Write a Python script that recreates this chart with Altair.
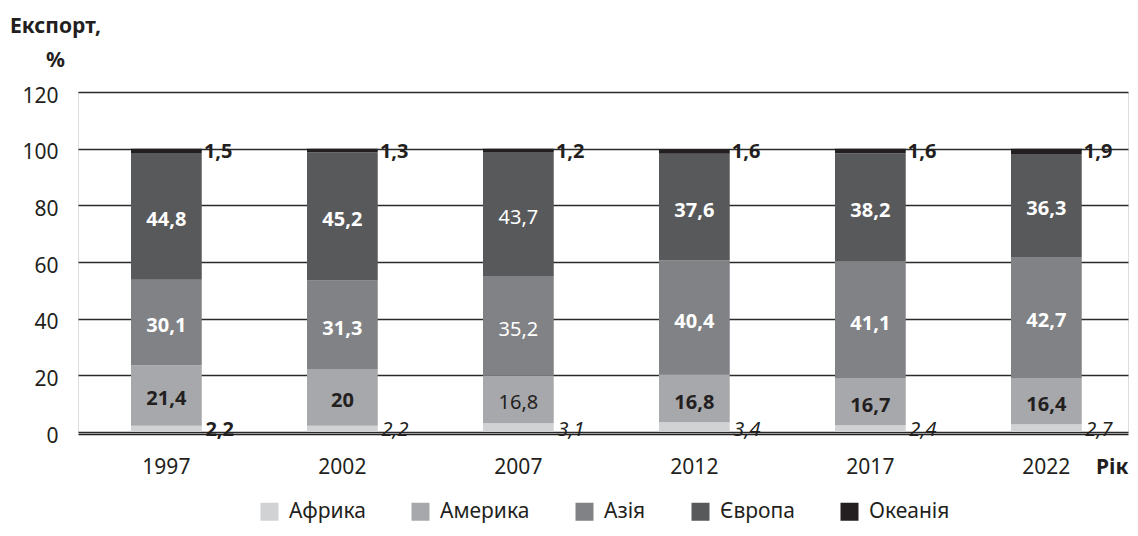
import altair as alt
import pandas as pd

years = ["1997", "2002", "2007", "2012", "2017", "2022"]
regions = ["Африка", "Америка", "Азія", "Європа", "Океанія"]
africa = [2.2, 2.2, 3.1, 3.4, 2.4, 2.7]
america = [21.4, 20, 16.8, 16.8, 16.7, 16.4]
asia = [30.1, 31.3, 35.2, 40.4, 41.1, 42.7]
europe = [44.8, 45.2, 43.7, 37.6, 38.2, 36.3]
oceania = [1.5, 1.3, 1.2, 1.6, 1.6, 1.9]
colors = ["#d1d2d4", "#a7a8ab", "#808285", "#58595b", "#231f20"]
africa_bold = [True, False, False, False, False, False]
inner_bold = [True, True, False, True, True, True]

FONT = "Noto Sans"
DARK = "#231f20"

series = [africa, america, asia, europe, oceania]
rows = []
for i, yr in enumerate(years):
    start = 0.0
    for r, (reg, vals) in enumerate(zip(regions, series)):
        v = vals[i]
        end = start + v
        lab = f"{v:g}".replace(".", ",")
        if r == 0:
            kind, pos = "low", start
            weight = "bold" if africa_bold[i] else "normal"
            style = "normal" if africa_bold[i] else "italic"
            tcol = DARK
        elif r == 4:
            kind, pos, weight, style, tcol = "top", end, "bold", "normal", DARK
        else:
            kind, pos = "inner", (start + end) / 2
            weight = "bold" if inner_bold[i] else "normal"
            style = "normal"
            tcol = DARK if r == 1 else "white"
        rows.append(dict(year=yr, region=reg, value=v, start=start, end=end,
                         label=lab, kind=kind, pos=pos, weight=weight,
                         style=style, tcol=tcol))
        start = end
df = pd.DataFrame(rows)

xscale = alt.Scale(paddingInner=0.598, paddingOuter=0.282, align=0.534)
x_enc = alt.X("year:N", scale=xscale, sort=years, axis=alt.Axis(
    title="Рік", labelAngle=0, ticks=False, tickSize=0, domain=True,
    domainColor=DARK, domainWidth=1.5, offset=2, labelPadding=39,
    labelBaseline="alphabetic", labelFontSize=21, labelColor=DARK,
    labelFont=FONT, titleX=1050, titleY=39, titleAlign="right",
    titleBaseline="alphabetic", titleFontWeight="bold", titleFontSize=21,
    titleFont=FONT, titleColor=DARK, titleAngle=0, grid=False))

y_axis = alt.Axis(
    values=[0, 20, 40, 60, 80, 100, 120], grid=True, gridColor="#2a2a2a",
    gridWidth=1.5, domain=False, ticks=False, tickSize=0, labelPadding=20,
    labelFontSize=21, labelFont=FONT, labelBaseline="alphabetic",
    labelOffset=10, labelColor=DARK,
    title=["Експорт,", "%"], titleAngle=0, titleAlign="center",
    titleBaseline="alphabetic", titleX=-23, titleY=-60, titleLineHeight=34,
    titleFontSize=21, titleFontWeight="bold", titleFont=FONT, titleColor=DARK)

bars = alt.Chart(df).mark_bar().encode(
    x=x_enc,
    y=alt.Y("start:Q", scale=alt.Scale(domain=[0, 120], nice=False), axis=y_axis),
    y2="end:Q",
    color=alt.Color("region:N", scale=alt.Scale(domain=regions, range=colors),
                    legend=alt.Legend(
                        title=None, orient="none", legendX=181, legendY=409,
                        direction="horizontal", symbolType="square",
                        symbolSize=324, symbolStrokeWidth=0, labelFontSize=21,
                        labelFont=FONT, labelColor=DARK, labelOffset=9,
                        columnPadding=44, padding=0, labelLimit=0)),
)

layers = [bars]
placement = {
    "inner": dict(align="center", dx=0, dy=4),
    "low": dict(align="left", dx=39, dy=-2),
    "top": dict(align="left", dx=37.5, dy=3),
}
groups = df.groupby(["kind", "tcol", "weight", "style"])
for (kind, tcol, weight, style), sub in groups:
    p = placement[kind]
    layers.append(
        alt.Chart(sub).mark_text(
            align=p["align"], baseline="middle", dx=p["dx"], dy=p["dy"],
            font=FONT, fontSize=20, fontWeight=weight, fontStyle=style,
            color=tcol,
        ).encode(
            x=alt.X("year:N", sort=years),
            y=alt.Y("pos:Q"),
            text="label:N",
        )
    )

chart = alt.layer(*layers).properties(
    width=1050, height=340,
    autosize=alt.AutoSizeParams(type="none"),
    padding={"left": 70, "top": 84, "right": 2, "bottom": 96},
    background="white",
).configure_view(stroke=None).configure(font=FONT)

chart.save("out.html", embed_options={"renderer": "svg", "actions": False})
